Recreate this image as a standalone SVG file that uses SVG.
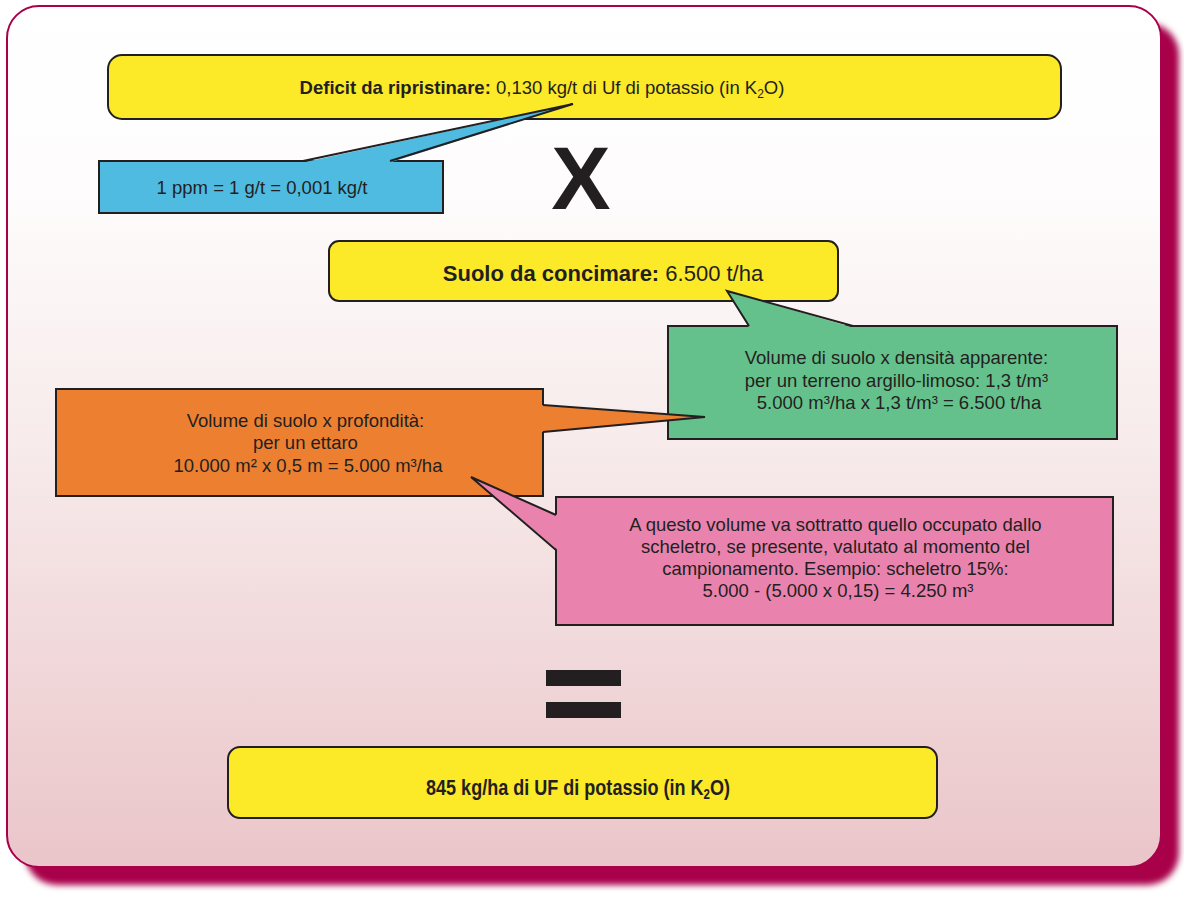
<svg xmlns="http://www.w3.org/2000/svg" width="1184" height="899" viewBox="0 0 1184 899">
  <defs>
    <linearGradient id="panelFill" x1="0" y1="0" x2="0" y2="1">
      <stop offset="0" stop-color="#ffffff"/>
      <stop offset="0.22" stop-color="#fefcfc"/>
      <stop offset="0.55" stop-color="#f6e8e8"/>
      <stop offset="1" stop-color="#eac5c9"/>
    </linearGradient>
    <filter id="soft" x="-5%" y="-5%" width="110%" height="110%">
      <feGaussianBlur stdDeviation="3"/>
    </filter>
    <style>
      .box { stroke: #231f20; stroke-width: 2; stroke-linejoin: miter; }
      .yellow { fill: #fce928; }
      .blue { fill: #4fbbe1; }
      .green { fill: #65c18c; }
      .orange { fill: #ed7f31; }
      .pink { fill: #e983ae; }
      .tail-edge { fill: none; stroke: #231f20; stroke-width: 2; stroke-linejoin: miter; }
      .txt { font-family: "Liberation Sans", Arial, sans-serif; fill: #231f20; text-anchor: middle; }
      .b { font-weight: bold; }
    </style>
  </defs>

  <!-- background panel with offset crimson shadow -->
  <g id="panel">
    <rect x="25" y="23" width="1154" height="862" rx="32" fill="#a8004a" filter="url(#soft)"/>
    <rect x="7" y="6" width="1154" height="861" rx="32" fill="url(#panelFill)" stroke="#a8004a" stroke-width="2"/>
  </g>

  <!-- nodes -->
  <g id="deficit">
    <rect class="box yellow" x="108" y="55" width="953" height="64" rx="14"/>
    <text class="txt" x="542" y="94" font-size="18.5"><tspan class="b">Deficit da ripristinare:</tspan> 0,130 kg/t di Uf di potassio (in K<tspan font-size="12" dy="4">2</tspan><tspan dy="-4">O)</tspan></text>
  </g>

  <g id="ppm">
    <rect class="box blue" x="99" y="161" width="344" height="52"/>
    <text class="txt" x="262" y="194" font-size="18.5">1 ppm = 1 g/t = 0,001 kg/t</text>
  </g>

  <g id="times">
    <text class="txt b" x="581" y="209" font-size="89">X</text>
  </g>

  <g id="suolo">
    <rect class="box yellow" x="329" y="241" width="509" height="60" rx="10"/>
    <text class="txt" x="603" y="281" font-size="22"><tspan class="b">Suolo da concimare:</tspan> 6.500 t/ha</text>
  </g>

  <g id="densita">
    <rect class="box green" x="668" y="326" width="449" height="113"/>
    <text class="txt" font-size="18.5">
      <tspan x="899" y="364">Volume di suolo x densità apparente:</tspan>
      <tspan x="899" y="386.5">per un terreno argillo-limoso: 1,3 t/m³</tspan>
      <tspan x="899" y="409">5.000 m³/ha x 1,3 t/m³ = 6.500 t/ha</tspan>
    </text>
  </g>

  <g id="profondita">
    <rect class="box orange" x="56" y="389" width="487" height="107"/>
    <text class="txt" font-size="18.5">
      <tspan x="308" y="427">Volume di suolo x profondità:</tspan>
      <tspan x="308" y="449">per un ettaro</tspan>
      <tspan x="308" y="472">10.000 m² x 0,5 m = 5.000 m³/ha</tspan>
    </text>
  </g>

  <g id="scheletro">
    <rect class="box pink" x="556" y="497" width="557" height="128"/>
    <text class="txt" font-size="18.5">
      <tspan x="838" y="531">A questo volume va sottratto quello occupato dallo</tspan>
      <tspan x="838" y="553">scheletro, se presente, valutato al momento del</tspan>
      <tspan x="838" y="575">campionamento. Esempio: scheletro 15%:</tspan>
      <tspan x="838" y="597">5.000 - (5.000 x 0,15) = 4.250 m³</tspan>
    </text>
  </g>

  <g id="equals" fill="#231f20">
    <rect x="546" y="670" width="75" height="16"/>
    <rect x="546" y="702" width="75" height="16"/>
  </g>

  <g id="risultato">
    <rect class="box yellow" x="228" y="747" width="709" height="71" rx="12"/>
    <!-- condensed bold label: horizontal squeeze keeps the glyph height -->
    <text class="txt b" transform="translate(578,795) scale(0.82,1)" x="0" y="0" font-size="22">845 kg/ha di UF di potassio (in K<tspan font-size="14" dy="4">2</tspan><tspan dy="-4">O)</tspan></text>
  </g>

  <!-- callout tails: fill hides the box border at the base, edges stroked on the two slanted sides -->
  <g id="connectors">
    <path class="blue" d="M303,162.6 L573,104 L390,162.6 Z"/>
    <path class="tail-edge" d="M303,161 L573,104 L390,161"/>

    <path class="green" d="M749,327.6 L727,291 L853,327.6 Z"/>
    <path class="tail-edge" d="M749,326 L727,291 L853,326"/>

    <path class="orange" d="M541.4,405 L705,417 L541.4,432 Z"/>
    <path class="tail-edge" d="M543,405 L705,417 L543,432"/>

    <path class="pink" d="M557.6,515 L471,477 L557.6,550 Z"/>
    <path class="tail-edge" d="M556,515 L471,477 L556,550"/>
  </g>
</svg>
